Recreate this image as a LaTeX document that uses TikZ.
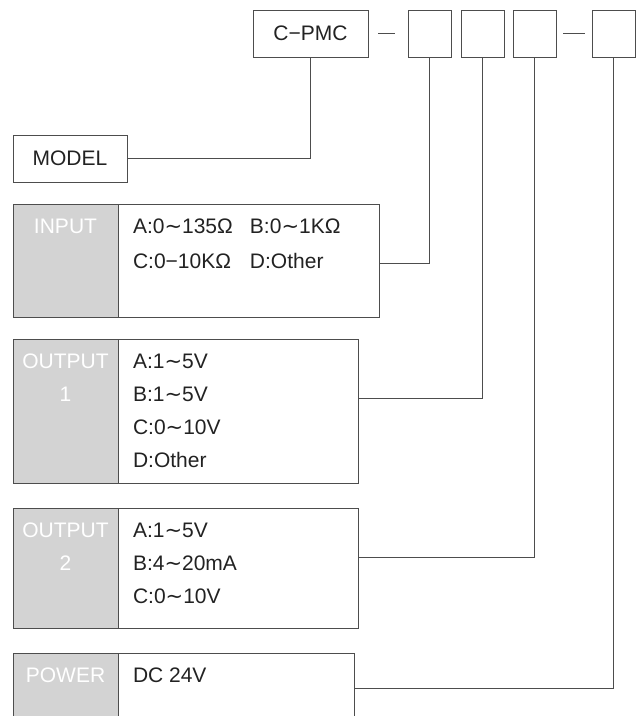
\documentclass[tikz,border=0pt]{standalone}
\usepackage{fontspec}
\setmainfont{Liberation Sans}
\newfontfamily\symfont{DejaVu Sans}
\usepackage{xcolor}
\usetikzlibrary{positioning}
\definecolor{labelgray}{HTML}{D3D3D3}
\definecolor{framegray}{HTML}{4D4D4D}
\definecolor{inkgray}{HTML}{222222}
\newcommand{\wave}{{\symfont ∼}}

\begin{document}
\begin{tikzpicture}[
  x=1pt, y=-1pt,
  node distance=10pt,
  every node/.style={font=\fontsize{21pt}{33pt}\selectfont, text=inkgray,
                     inner sep=0pt, outer sep=0pt},
  codebox/.style={draw=framegray, line width=0.9pt, minimum height=47pt},
  tagbox/.style={draw=framegray, line width=0.9pt, fill=labelgray,
                 anchor=north west, minimum width=105pt},
  itembox/.style={draw=framegray, line width=0.9pt, anchor=north west},
  tagtext/.style={text=white, align=center, anchor=north},
  itemtext/.style={align=left, anchor=north west},
  line/.style={draw=framegray, line width=0.9pt}
]
\path[use as bounding box, clip] (0,0) rectangle (636,716);

\node[codebox, minimum width=115pt] (cpmc) at (310.5,33.5) {C−PMC};
\node[codebox, minimum width=43pt, right=40pt of cpmc] (sel1) {};
\node[codebox, minimum width=43pt, right=10pt of sel1] (sel2) {};
\node[codebox, minimum width=43pt, right=9pt of sel2]  (sel3) {};
\node[codebox, minimum width=43pt, right=36pt of sel3] (sel4) {};
\draw[line] ([xshift=10pt]cpmc.east) -- ++(17,0);
\draw[line] ([xshift=7pt]sel3.east) -- ++(22,0);

\node[codebox, minimum width=114pt, anchor=north west] (model) at (13,135) {MODEL};

\node[tagbox, minimum height=113pt] (intag) at (13,204) {};
\node[itembox, minimum width=261pt, minimum height=113pt] (inbox) at (118,204) {};
\node[tagtext] (intagtext) at ([yshift=-15pt]intag.north) {INPUT};
\node[itemtext, font=\fontsize{21pt}{35pt}\selectfont] (initems)
      at ([xshift=15pt, yshift=-15pt]inbox.north west)
      {\makebox[117pt][l]{A:0\wave135Ω}B:0\wave1KΩ\\
       \makebox[117pt][l]{C:0−10KΩ}D:Other};

\node[tagbox, minimum height=144pt] (o1tag) at (13,339) {};
\node[itembox, minimum width=240pt, minimum height=144pt] (o1box) at (118,339) {};
\node[tagtext] (o1tagtext) at ([yshift=-15pt]o1tag.north) {OUTPUT\\1};
\node[itemtext] (o1items) at ([xshift=15pt, yshift=-15pt]o1box.north west)
      {A:1\wave5V\\B:1\wave5V\\C:0\wave10V\\D:Other};

\node[tagbox, minimum height=120pt] (o2tag) at (13,508) {};
\node[itembox, minimum width=240pt, minimum height=120pt] (o2box) at (118,508) {};
\node[tagtext] (o2tagtext) at ([yshift=-15pt]o2tag.north) {OUTPUT\\2};
\node[itemtext] (o2items) at ([xshift=15pt, yshift=-15pt]o2box.north west)
      {A:1\wave5V\\B:4\wave20mA\\C:0\wave10V};

\node[tagbox, minimum height=90pt] (pwtag) at (13,653) {};
\node[itembox, minimum width=236pt, minimum height=90pt] (pwbox) at (118,653) {};
\node[tagtext] (pwtagtext) at ([yshift=-15pt]pwtag.north) {POWER};
\node[itemtext] (pwitems) at ([xshift=15pt, yshift=-15pt]pwbox.north west) {DC 24V};

\draw[line] (model.east) -| (cpmc.south);
\draw[line] ([yshift=-2.5pt]inbox.east) -| (sel1.south);
\draw[line] ([yshift=13pt]o1box.east) -| (sel2.south);
\draw[line] ([yshift=11pt]o2box.east) -| (sel3.south);
\draw[line] ([yshift=-35pt]pwbox.north east) -| (sel4.south);
\end{tikzpicture}
\end{document}
